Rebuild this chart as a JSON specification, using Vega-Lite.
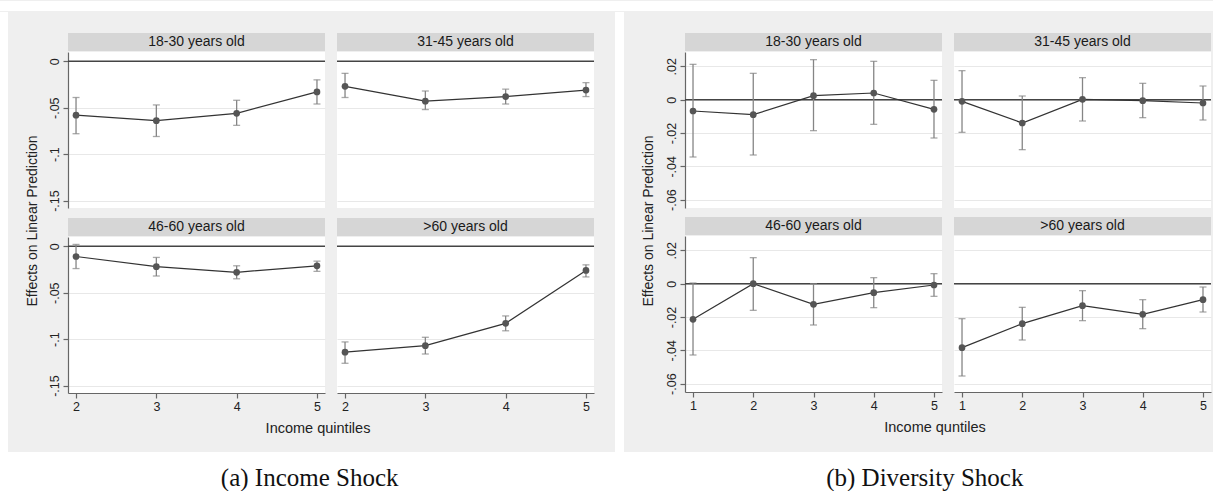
{
"$schema": "https://vega.github.io/schema/vega-lite/v6.json",
"background": "#efefef",
"padding": 0,
"config": {
  "view": {"stroke": null},
  "font": "Liberation Sans",
  "axis": {"domainColor": "#666666", "tickColor": "#666666", "gridColor": "#e8e8e8", "gridWidth": 1, "labelFont": "Liberation Sans", "labelFontSize": 12.5, "labelColor": "#222222", "tickSize": 5, "labelPadding": 2, "domainWidth": 1.2, "tickWidth": 1.2, "labelOverlap": false}
},
"datasets": {
  "A": [
    {"age":"18-30","q":2,"est":-0.058,"lo":-0.078,"hi":-0.039},
    {"age":"18-30","q":3,"est":-0.064,"lo":-0.081,"hi":-0.047},
    {"age":"18-30","q":4,"est":-0.056,"lo":-0.069,"hi":-0.042},
    {"age":"18-30","q":5,"est":-0.033,"lo":-0.046,"hi":-0.020},
    {"age":"31-45","q":2,"est":-0.027,"lo":-0.039,"hi":-0.013},
    {"age":"31-45","q":3,"est":-0.043,"lo":-0.052,"hi":-0.032},
    {"age":"31-45","q":4,"est":-0.038,"lo":-0.046,"hi":-0.030},
    {"age":"31-45","q":5,"est":-0.031,"lo":-0.038,"hi":-0.023},
    {"age":"46-60","q":2,"est":-0.011,"lo":-0.024,"hi":0.002},
    {"age":"46-60","q":3,"est":-0.022,"lo":-0.032,"hi":-0.012},
    {"age":"46-60","q":4,"est":-0.028,"lo":-0.035,"hi":-0.021},
    {"age":"46-60","q":5,"est":-0.021,"lo":-0.027,"hi":-0.016},
    {"age":">60","q":2,"est":-0.114,"lo":-0.126,"hi":-0.103},
    {"age":">60","q":3,"est":-0.107,"lo":-0.116,"hi":-0.098},
    {"age":">60","q":4,"est":-0.083,"lo":-0.091,"hi":-0.075},
    {"age":">60","q":5,"est":-0.026,"lo":-0.033,"hi":-0.020}
  ],
  "B": [
    {"age":"18-30","q":1,"est":-0.0068,"lo":-0.0344,"hi":0.0212},
    {"age":"18-30","q":2,"est":-0.009,"lo":-0.0332,"hi":0.0158},
    {"age":"18-30","q":3,"est":0.0024,"lo":-0.0186,"hi":0.024},
    {"age":"18-30","q":4,"est":0.004,"lo":-0.0148,"hi":0.023},
    {"age":"18-30","q":5,"est":-0.0058,"lo":-0.023,"hi":0.0116},
    {"age":"31-45","q":1,"est":-0.001,"lo":-0.0196,"hi":0.0174},
    {"age":"31-45","q":2,"est":-0.014,"lo":-0.030,"hi":0.0022},
    {"age":"31-45","q":3,"est":0.0002,"lo":-0.0128,"hi":0.0132},
    {"age":"31-45","q":4,"est":-0.0006,"lo":-0.0108,"hi":0.0098},
    {"age":"31-45","q":5,"est":-0.002,"lo":-0.0122,"hi":0.0082},
    {"age":"46-60","q":1,"est":-0.0214,"lo":-0.0428,"hi":0.0004},
    {"age":"46-60","q":2,"est":0.0,"lo":-0.016,"hi":0.0156},
    {"age":"46-60","q":3,"est":-0.0124,"lo":-0.0248,"hi":0.0},
    {"age":"46-60","q":4,"est":-0.0054,"lo":-0.0144,"hi":0.0036},
    {"age":"46-60","q":5,"est":-0.0008,"lo":-0.0076,"hi":0.006},
    {"age":">60","q":1,"est":-0.0384,"lo":-0.0554,"hi":-0.021},
    {"age":">60","q":2,"est":-0.024,"lo":-0.0338,"hi":-0.0142},
    {"age":">60","q":3,"est":-0.0132,"lo":-0.0222,"hi":-0.0042},
    {"age":">60","q":4,"est":-0.0184,"lo":-0.027,"hi":-0.0096},
    {"age":">60","q":5,"est":-0.0096,"lo":-0.017,"hi":-0.002}
  ]
},
"spacing": 0,
"vconcat": [
  {"width": 1213, "height": 10, "data": {"values": [{}]}, "mark": {"type": "text", "text": ""}, "view": {"fill": "white"}},
  {"hconcat": [
    {"width": 8, "height": 440, "data": {"values": [{}]}, "mark": {"type": "text", "text": ""}, "view": {"fill": "white"}},
    {"hconcat": [
      {"width": 40, "height": 418, "data": {"values": [{"t": "Effects on Linear Prediction"}]}, "mark": {"type": "text", "angle": 270, "fontSize": 14, "dy": 4.5, "color": "#222222"}, "encoding": {"text": {"field": "t"}}},
      {"vconcat": [
        {"width": 1, "height": 21, "data": {"values": [{}]}, "mark": {"type": "text", "text": ""}},
        {"vconcat": [
          {"hconcat": [
            {"bounds": "flush", "spacing": 1, "vconcat": [
              {"width": 257, "height": 18, "data": {"values": [{"t": "18-30 years old"}]}, "mark": {"type": "text", "fontSize": 14, "color": "#1a1a1a"}, "encoding": {"text": {"field": "t"}}, "view": {"fill": "#d6d6d6"}},
              {"width": 257, "height": 156, "view": {"fill": "white"}, "layer": [
                {"data": {"values": [{}]}, "mark": {"type": "rule", "color": "#444444", "strokeWidth": 1.5}, "encoding": {"y": {"datum": 0, "type": "quantitative", "scale": {"domain": [-0.158, 0.01], "nice": false, "zero": false}, "axis": {"values": [0, -0.05, -0.1, -0.15], "title": null, "labelAngle": 270, "labelOverlap": false, "grid": true, "labelExpr": "datum.value == 0 ? '0' : replace(replace(format(datum.value, '.2~f'), '\u2212', '-'), '0.', '.')"}}}},
                {"data": {"name": "A"}, "transform": [{"filter": "datum.age == '18-30'"}], "mark": {"type": "rule", "color": "#858585", "strokeWidth": 1.3}, "encoding": {"x": {"field": "q", "type": "quantitative", "scale": {"domain": [1.9, 5.1], "nice": false, "zero": false}, "axis": null}, "y": {"field": "lo", "type": "quantitative", "scale": {"domain": [-0.158, 0.01], "nice": false, "zero": false}, "axis": {"values": [0, -0.05, -0.1, -0.15], "title": null, "labelAngle": 270, "labelOverlap": false, "grid": true, "labelExpr": "datum.value == 0 ? '0' : replace(replace(format(datum.value, '.2~f'), '\u2212', '-'), '0.', '.')"}}, "y2": {"field": "hi"}}},
                {"data": {"name": "A"}, "transform": [{"filter": "datum.age == '18-30'"}], "mark": {"type": "tick", "orient": "horizontal", "size": 7, "thickness": 1.3, "color": "#858585"}, "encoding": {"x": {"field": "q", "type": "quantitative", "axis": null}, "y": {"field": "lo", "type": "quantitative", "axis": {"values": [0, -0.05, -0.1, -0.15], "title": null, "labelAngle": 270, "labelOverlap": false, "grid": true, "labelExpr": "datum.value == 0 ? '0' : replace(replace(format(datum.value, '.2~f'), '\u2212', '-'), '0.', '.')"}}}},
                {"data": {"name": "A"}, "transform": [{"filter": "datum.age == '18-30'"}], "mark": {"type": "tick", "orient": "horizontal", "size": 7, "thickness": 1.3, "color": "#858585"}, "encoding": {"x": {"field": "q", "type": "quantitative", "axis": null}, "y": {"field": "hi", "type": "quantitative", "axis": {"values": [0, -0.05, -0.1, -0.15], "title": null, "labelAngle": 270, "labelOverlap": false, "grid": true, "labelExpr": "datum.value == 0 ? '0' : replace(replace(format(datum.value, '.2~f'), '\u2212', '-'), '0.', '.')"}}}},
                {"data": {"name": "A"}, "transform": [{"filter": "datum.age == '18-30'"}], "mark": {"type": "line", "color": "#333333", "strokeWidth": 1.2}, "encoding": {"x": {"field": "q", "type": "quantitative", "axis": null}, "y": {"field": "est", "type": "quantitative", "axis": {"values": [0, -0.05, -0.1, -0.15], "title": null, "labelAngle": 270, "labelOverlap": false, "grid": true, "labelExpr": "datum.value == 0 ? '0' : replace(replace(format(datum.value, '.2~f'), '\u2212', '-'), '0.', '.')"}}}},
                {"data": {"name": "A"}, "transform": [{"filter": "datum.age == '18-30'"}], "mark": {"type": "circle", "size": 45, "color": "#555555", "opacity": 1}, "encoding": {"x": {"field": "q", "type": "quantitative", "axis": null}, "y": {"field": "est", "type": "quantitative", "axis": {"values": [0, -0.05, -0.1, -0.15], "title": null, "labelAngle": 270, "labelOverlap": false, "grid": true, "labelExpr": "datum.value == 0 ? '0' : replace(replace(format(datum.value, '.2~f'), '\u2212', '-'), '0.', '.')"}}}}
              ]}
            ]},
            {"bounds": "flush", "spacing": 1, "vconcat": [
              {"width": 257, "height": 18, "data": {"values": [{"t": "31-45 years old"}]}, "mark": {"type": "text", "fontSize": 14, "color": "#1a1a1a"}, "encoding": {"text": {"field": "t"}}, "view": {"fill": "#d6d6d6"}},
              {"width": 257, "height": 156, "view": {"fill": "white"}, "layer": [
                {"data": {"values": [{}]}, "mark": {"type": "rule", "color": "#444444", "strokeWidth": 1.5}, "encoding": {"y": {"datum": 0, "type": "quantitative", "scale": {"domain": [-0.158, 0.01], "nice": false, "zero": false}, "axis": {"values": [0, -0.05, -0.1, -0.15], "title": null, "labels": false, "ticks": false, "domain": false, "grid": true}}}},
                {"data": {"name": "A"}, "transform": [{"filter": "datum.age == '31-45'"}], "mark": {"type": "rule", "color": "#858585", "strokeWidth": 1.3}, "encoding": {"x": {"field": "q", "type": "quantitative", "scale": {"domain": [1.9, 5.1], "nice": false, "zero": false}, "axis": null}, "y": {"field": "lo", "type": "quantitative", "scale": {"domain": [-0.158, 0.01], "nice": false, "zero": false}, "axis": {"values": [0, -0.05, -0.1, -0.15], "title": null, "labels": false, "ticks": false, "domain": false, "grid": true}}, "y2": {"field": "hi"}}},
                {"data": {"name": "A"}, "transform": [{"filter": "datum.age == '31-45'"}], "mark": {"type": "tick", "orient": "horizontal", "size": 7, "thickness": 1.3, "color": "#858585"}, "encoding": {"x": {"field": "q", "type": "quantitative", "axis": null}, "y": {"field": "lo", "type": "quantitative", "axis": {"values": [0, -0.05, -0.1, -0.15], "title": null, "labels": false, "ticks": false, "domain": false, "grid": true}}}},
                {"data": {"name": "A"}, "transform": [{"filter": "datum.age == '31-45'"}], "mark": {"type": "tick", "orient": "horizontal", "size": 7, "thickness": 1.3, "color": "#858585"}, "encoding": {"x": {"field": "q", "type": "quantitative", "axis": null}, "y": {"field": "hi", "type": "quantitative", "axis": {"values": [0, -0.05, -0.1, -0.15], "title": null, "labels": false, "ticks": false, "domain": false, "grid": true}}}},
                {"data": {"name": "A"}, "transform": [{"filter": "datum.age == '31-45'"}], "mark": {"type": "line", "color": "#333333", "strokeWidth": 1.2}, "encoding": {"x": {"field": "q", "type": "quantitative", "axis": null}, "y": {"field": "est", "type": "quantitative", "axis": {"values": [0, -0.05, -0.1, -0.15], "title": null, "labels": false, "ticks": false, "domain": false, "grid": true}}}},
                {"data": {"name": "A"}, "transform": [{"filter": "datum.age == '31-45'"}], "mark": {"type": "circle", "size": 45, "color": "#555555", "opacity": 1}, "encoding": {"x": {"field": "q", "type": "quantitative", "axis": null}, "y": {"field": "est", "type": "quantitative", "axis": {"values": [0, -0.05, -0.1, -0.15], "title": null, "labels": false, "ticks": false, "domain": false, "grid": true}}}}
              ]}
            ]}
          ], "spacing": 10},
          {"hconcat": [
            {"bounds": "flush", "spacing": 1, "vconcat": [
              {"width": 257, "height": 18, "data": {"values": [{"t": "46-60 years old"}]}, "mark": {"type": "text", "fontSize": 14, "color": "#1a1a1a"}, "encoding": {"text": {"field": "t"}}, "view": {"fill": "#d6d6d6"}},
              {"width": 257, "height": 156, "view": {"fill": "white"}, "layer": [
                {"data": {"values": [{}]}, "mark": {"type": "rule", "color": "#444444", "strokeWidth": 1.5}, "encoding": {"y": {"datum": 0, "type": "quantitative", "scale": {"domain": [-0.158, 0.01], "nice": false, "zero": false}, "axis": {"values": [0, -0.05, -0.1, -0.15], "title": null, "labelAngle": 270, "labelOverlap": false, "grid": true, "labelExpr": "datum.value == 0 ? '0' : replace(replace(format(datum.value, '.2~f'), '\u2212', '-'), '0.', '.')"}}}},
                {"data": {"name": "A"}, "transform": [{"filter": "datum.age == '46-60'"}], "mark": {"type": "rule", "color": "#858585", "strokeWidth": 1.3}, "encoding": {"x": {"field": "q", "type": "quantitative", "scale": {"domain": [1.9, 5.1], "nice": false, "zero": false}, "axis": {"values": [2, 3, 4, 5], "format": "d", "title": null, "grid": false}}, "y": {"field": "lo", "type": "quantitative", "scale": {"domain": [-0.158, 0.01], "nice": false, "zero": false}, "axis": {"values": [0, -0.05, -0.1, -0.15], "title": null, "labelAngle": 270, "labelOverlap": false, "grid": true, "labelExpr": "datum.value == 0 ? '0' : replace(replace(format(datum.value, '.2~f'), '\u2212', '-'), '0.', '.')"}}, "y2": {"field": "hi"}}},
                {"data": {"name": "A"}, "transform": [{"filter": "datum.age == '46-60'"}], "mark": {"type": "tick", "orient": "horizontal", "size": 7, "thickness": 1.3, "color": "#858585"}, "encoding": {"x": {"field": "q", "type": "quantitative", "axis": {"values": [2, 3, 4, 5], "format": "d", "title": null, "grid": false}}, "y": {"field": "lo", "type": "quantitative", "axis": {"values": [0, -0.05, -0.1, -0.15], "title": null, "labelAngle": 270, "labelOverlap": false, "grid": true, "labelExpr": "datum.value == 0 ? '0' : replace(replace(format(datum.value, '.2~f'), '\u2212', '-'), '0.', '.')"}}}},
                {"data": {"name": "A"}, "transform": [{"filter": "datum.age == '46-60'"}], "mark": {"type": "tick", "orient": "horizontal", "size": 7, "thickness": 1.3, "color": "#858585"}, "encoding": {"x": {"field": "q", "type": "quantitative", "axis": {"values": [2, 3, 4, 5], "format": "d", "title": null, "grid": false}}, "y": {"field": "hi", "type": "quantitative", "axis": {"values": [0, -0.05, -0.1, -0.15], "title": null, "labelAngle": 270, "labelOverlap": false, "grid": true, "labelExpr": "datum.value == 0 ? '0' : replace(replace(format(datum.value, '.2~f'), '\u2212', '-'), '0.', '.')"}}}},
                {"data": {"name": "A"}, "transform": [{"filter": "datum.age == '46-60'"}], "mark": {"type": "line", "color": "#333333", "strokeWidth": 1.2}, "encoding": {"x": {"field": "q", "type": "quantitative", "axis": {"values": [2, 3, 4, 5], "format": "d", "title": null, "grid": false}}, "y": {"field": "est", "type": "quantitative", "axis": {"values": [0, -0.05, -0.1, -0.15], "title": null, "labelAngle": 270, "labelOverlap": false, "grid": true, "labelExpr": "datum.value == 0 ? '0' : replace(replace(format(datum.value, '.2~f'), '\u2212', '-'), '0.', '.')"}}}},
                {"data": {"name": "A"}, "transform": [{"filter": "datum.age == '46-60'"}], "mark": {"type": "circle", "size": 45, "color": "#555555", "opacity": 1}, "encoding": {"x": {"field": "q", "type": "quantitative", "axis": {"values": [2, 3, 4, 5], "format": "d", "title": null, "grid": false}}, "y": {"field": "est", "type": "quantitative", "axis": {"values": [0, -0.05, -0.1, -0.15], "title": null, "labelAngle": 270, "labelOverlap": false, "grid": true, "labelExpr": "datum.value == 0 ? '0' : replace(replace(format(datum.value, '.2~f'), '\u2212', '-'), '0.', '.')"}}}}
              ]}
            ]},
            {"bounds": "flush", "spacing": 1, "vconcat": [
              {"width": 257, "height": 18, "data": {"values": [{"t": ">60 years old"}]}, "mark": {"type": "text", "fontSize": 14, "color": "#1a1a1a"}, "encoding": {"text": {"field": "t"}}, "view": {"fill": "#d6d6d6"}},
              {"width": 257, "height": 156, "view": {"fill": "white"}, "layer": [
                {"data": {"values": [{}]}, "mark": {"type": "rule", "color": "#444444", "strokeWidth": 1.5}, "encoding": {"y": {"datum": 0, "type": "quantitative", "scale": {"domain": [-0.158, 0.01], "nice": false, "zero": false}, "axis": {"values": [0, -0.05, -0.1, -0.15], "title": null, "labels": false, "ticks": false, "domain": false, "grid": true}}}},
                {"data": {"name": "A"}, "transform": [{"filter": "datum.age == '>60'"}], "mark": {"type": "rule", "color": "#858585", "strokeWidth": 1.3}, "encoding": {"x": {"field": "q", "type": "quantitative", "scale": {"domain": [1.9, 5.1], "nice": false, "zero": false}, "axis": {"values": [2, 3, 4, 5], "format": "d", "title": null, "grid": false}}, "y": {"field": "lo", "type": "quantitative", "scale": {"domain": [-0.158, 0.01], "nice": false, "zero": false}, "axis": {"values": [0, -0.05, -0.1, -0.15], "title": null, "labels": false, "ticks": false, "domain": false, "grid": true}}, "y2": {"field": "hi"}}},
                {"data": {"name": "A"}, "transform": [{"filter": "datum.age == '>60'"}], "mark": {"type": "tick", "orient": "horizontal", "size": 7, "thickness": 1.3, "color": "#858585"}, "encoding": {"x": {"field": "q", "type": "quantitative", "axis": {"values": [2, 3, 4, 5], "format": "d", "title": null, "grid": false}}, "y": {"field": "lo", "type": "quantitative", "axis": {"values": [0, -0.05, -0.1, -0.15], "title": null, "labels": false, "ticks": false, "domain": false, "grid": true}}}},
                {"data": {"name": "A"}, "transform": [{"filter": "datum.age == '>60'"}], "mark": {"type": "tick", "orient": "horizontal", "size": 7, "thickness": 1.3, "color": "#858585"}, "encoding": {"x": {"field": "q", "type": "quantitative", "axis": {"values": [2, 3, 4, 5], "format": "d", "title": null, "grid": false}}, "y": {"field": "hi", "type": "quantitative", "axis": {"values": [0, -0.05, -0.1, -0.15], "title": null, "labels": false, "ticks": false, "domain": false, "grid": true}}}},
                {"data": {"name": "A"}, "transform": [{"filter": "datum.age == '>60'"}], "mark": {"type": "line", "color": "#333333", "strokeWidth": 1.2}, "encoding": {"x": {"field": "q", "type": "quantitative", "axis": {"values": [2, 3, 4, 5], "format": "d", "title": null, "grid": false}}, "y": {"field": "est", "type": "quantitative", "axis": {"values": [0, -0.05, -0.1, -0.15], "title": null, "labels": false, "ticks": false, "domain": false, "grid": true}}}},
                {"data": {"name": "A"}, "transform": [{"filter": "datum.age == '>60'"}], "mark": {"type": "circle", "size": 45, "color": "#555555", "opacity": 1}, "encoding": {"x": {"field": "q", "type": "quantitative", "axis": {"values": [2, 3, 4, 5], "format": "d", "title": null, "grid": false}}, "y": {"field": "est", "type": "quantitative", "axis": {"values": [0, -0.05, -0.1, -0.15], "title": null, "labels": false, "ticks": false, "domain": false, "grid": true}}}}
              ]}
            ]}
          ], "spacing": 10}
        ], "spacing": 6},
        {"width": 500, "height": 32, "data": {"values": [{"t": "Income quintiles"}]}, "mark": {"type": "text", "fontSize": 14.5, "color": "#222222"}, "encoding": {"text": {"field": "t"}}}
      ], "spacing": 0},
      {"width": 20, "height": 10, "data": {"values": [{}]}, "mark": {"type": "text", "text": ""}}
    ], "spacing": 0},
    {"width": 9, "height": 440, "data": {"values": [{}]}, "mark": {"type": "text", "text": ""}, "view": {"fill": "white"}},
    {"hconcat": [
      {"width": 40, "height": 418, "data": {"values": [{"t": "Effects on Linear Prediction"}]}, "mark": {"type": "text", "angle": 270, "fontSize": 14, "dy": 4.5, "color": "#222222"}, "encoding": {"text": {"field": "t"}}},
      {"vconcat": [
        {"width": 1, "height": 21, "data": {"values": [{}]}, "mark": {"type": "text", "text": ""}},
        {"vconcat": [
          {"hconcat": [
            {"bounds": "flush", "spacing": 1, "vconcat": [
              {"width": 257, "height": 18, "data": {"values": [{"t": "18-30 years old"}]}, "mark": {"type": "text", "fontSize": 14, "color": "#1a1a1a"}, "encoding": {"text": {"field": "t"}}, "view": {"fill": "#d6d6d6"}},
              {"width": 257, "height": 156, "view": {"fill": "white"}, "layer": [
                {"data": {"values": [{}]}, "mark": {"type": "rule", "color": "#444444", "strokeWidth": 1.5}, "encoding": {"y": {"datum": 0, "type": "quantitative", "scale": {"domain": [-0.065, 0.0286], "nice": false, "zero": false}, "axis": {"values": [0.02, 0, -0.02, -0.04, -0.06], "title": null, "labelAngle": 270, "labelOverlap": false, "grid": true, "labelExpr": "datum.value == 0 ? '0' : replace(replace(format(datum.value, '.2~f'), '\u2212', '-'), '0.', '.')"}}}},
                {"data": {"name": "B"}, "transform": [{"filter": "datum.age == '18-30'"}], "mark": {"type": "rule", "color": "#858585", "strokeWidth": 1.3}, "encoding": {"x": {"field": "q", "type": "quantitative", "scale": {"domain": [0.867, 5.133], "nice": false, "zero": false}, "axis": null}, "y": {"field": "lo", "type": "quantitative", "scale": {"domain": [-0.065, 0.0286], "nice": false, "zero": false}, "axis": {"values": [0.02, 0, -0.02, -0.04, -0.06], "title": null, "labelAngle": 270, "labelOverlap": false, "grid": true, "labelExpr": "datum.value == 0 ? '0' : replace(replace(format(datum.value, '.2~f'), '\u2212', '-'), '0.', '.')"}}, "y2": {"field": "hi"}}},
                {"data": {"name": "B"}, "transform": [{"filter": "datum.age == '18-30'"}], "mark": {"type": "tick", "orient": "horizontal", "size": 7, "thickness": 1.3, "color": "#858585"}, "encoding": {"x": {"field": "q", "type": "quantitative", "axis": null}, "y": {"field": "lo", "type": "quantitative", "axis": {"values": [0.02, 0, -0.02, -0.04, -0.06], "title": null, "labelAngle": 270, "labelOverlap": false, "grid": true, "labelExpr": "datum.value == 0 ? '0' : replace(replace(format(datum.value, '.2~f'), '\u2212', '-'), '0.', '.')"}}}},
                {"data": {"name": "B"}, "transform": [{"filter": "datum.age == '18-30'"}], "mark": {"type": "tick", "orient": "horizontal", "size": 7, "thickness": 1.3, "color": "#858585"}, "encoding": {"x": {"field": "q", "type": "quantitative", "axis": null}, "y": {"field": "hi", "type": "quantitative", "axis": {"values": [0.02, 0, -0.02, -0.04, -0.06], "title": null, "labelAngle": 270, "labelOverlap": false, "grid": true, "labelExpr": "datum.value == 0 ? '0' : replace(replace(format(datum.value, '.2~f'), '\u2212', '-'), '0.', '.')"}}}},
                {"data": {"name": "B"}, "transform": [{"filter": "datum.age == '18-30'"}], "mark": {"type": "line", "color": "#333333", "strokeWidth": 1.2}, "encoding": {"x": {"field": "q", "type": "quantitative", "axis": null}, "y": {"field": "est", "type": "quantitative", "axis": {"values": [0.02, 0, -0.02, -0.04, -0.06], "title": null, "labelAngle": 270, "labelOverlap": false, "grid": true, "labelExpr": "datum.value == 0 ? '0' : replace(replace(format(datum.value, '.2~f'), '\u2212', '-'), '0.', '.')"}}}},
                {"data": {"name": "B"}, "transform": [{"filter": "datum.age == '18-30'"}], "mark": {"type": "circle", "size": 45, "color": "#555555", "opacity": 1}, "encoding": {"x": {"field": "q", "type": "quantitative", "axis": null}, "y": {"field": "est", "type": "quantitative", "axis": {"values": [0.02, 0, -0.02, -0.04, -0.06], "title": null, "labelAngle": 270, "labelOverlap": false, "grid": true, "labelExpr": "datum.value == 0 ? '0' : replace(replace(format(datum.value, '.2~f'), '\u2212', '-'), '0.', '.')"}}}}
              ]}
            ]},
            {"bounds": "flush", "spacing": 1, "vconcat": [
              {"width": 257, "height": 18, "data": {"values": [{"t": "31-45 years old"}]}, "mark": {"type": "text", "fontSize": 14, "color": "#1a1a1a"}, "encoding": {"text": {"field": "t"}}, "view": {"fill": "#d6d6d6"}},
              {"width": 257, "height": 156, "view": {"fill": "white"}, "layer": [
                {"data": {"values": [{}]}, "mark": {"type": "rule", "color": "#444444", "strokeWidth": 1.5}, "encoding": {"y": {"datum": 0, "type": "quantitative", "scale": {"domain": [-0.065, 0.0286], "nice": false, "zero": false}, "axis": {"values": [0.02, 0, -0.02, -0.04, -0.06], "title": null, "labels": false, "ticks": false, "domain": false, "grid": true}}}},
                {"data": {"name": "B"}, "transform": [{"filter": "datum.age == '31-45'"}], "mark": {"type": "rule", "color": "#858585", "strokeWidth": 1.3}, "encoding": {"x": {"field": "q", "type": "quantitative", "scale": {"domain": [0.867, 5.133], "nice": false, "zero": false}, "axis": null}, "y": {"field": "lo", "type": "quantitative", "scale": {"domain": [-0.065, 0.0286], "nice": false, "zero": false}, "axis": {"values": [0.02, 0, -0.02, -0.04, -0.06], "title": null, "labels": false, "ticks": false, "domain": false, "grid": true}}, "y2": {"field": "hi"}}},
                {"data": {"name": "B"}, "transform": [{"filter": "datum.age == '31-45'"}], "mark": {"type": "tick", "orient": "horizontal", "size": 7, "thickness": 1.3, "color": "#858585"}, "encoding": {"x": {"field": "q", "type": "quantitative", "axis": null}, "y": {"field": "lo", "type": "quantitative", "axis": {"values": [0.02, 0, -0.02, -0.04, -0.06], "title": null, "labels": false, "ticks": false, "domain": false, "grid": true}}}},
                {"data": {"name": "B"}, "transform": [{"filter": "datum.age == '31-45'"}], "mark": {"type": "tick", "orient": "horizontal", "size": 7, "thickness": 1.3, "color": "#858585"}, "encoding": {"x": {"field": "q", "type": "quantitative", "axis": null}, "y": {"field": "hi", "type": "quantitative", "axis": {"values": [0.02, 0, -0.02, -0.04, -0.06], "title": null, "labels": false, "ticks": false, "domain": false, "grid": true}}}},
                {"data": {"name": "B"}, "transform": [{"filter": "datum.age == '31-45'"}], "mark": {"type": "line", "color": "#333333", "strokeWidth": 1.2}, "encoding": {"x": {"field": "q", "type": "quantitative", "axis": null}, "y": {"field": "est", "type": "quantitative", "axis": {"values": [0.02, 0, -0.02, -0.04, -0.06], "title": null, "labels": false, "ticks": false, "domain": false, "grid": true}}}},
                {"data": {"name": "B"}, "transform": [{"filter": "datum.age == '31-45'"}], "mark": {"type": "circle", "size": 45, "color": "#555555", "opacity": 1}, "encoding": {"x": {"field": "q", "type": "quantitative", "axis": null}, "y": {"field": "est", "type": "quantitative", "axis": {"values": [0.02, 0, -0.02, -0.04, -0.06], "title": null, "labels": false, "ticks": false, "domain": false, "grid": true}}}}
              ]}
            ]}
          ], "spacing": 10},
          {"hconcat": [
            {"bounds": "flush", "spacing": 1, "vconcat": [
              {"width": 257, "height": 18, "data": {"values": [{"t": "46-60 years old"}]}, "mark": {"type": "text", "fontSize": 14, "color": "#1a1a1a"}, "encoding": {"text": {"field": "t"}}, "view": {"fill": "#d6d6d6"}},
              {"width": 257, "height": 156, "view": {"fill": "white"}, "layer": [
                {"data": {"values": [{}]}, "mark": {"type": "rule", "color": "#444444", "strokeWidth": 1.5}, "encoding": {"y": {"datum": 0, "type": "quantitative", "scale": {"domain": [-0.065, 0.0286], "nice": false, "zero": false}, "axis": {"values": [0.02, 0, -0.02, -0.04, -0.06], "title": null, "labelAngle": 270, "labelOverlap": false, "grid": true, "labelExpr": "datum.value == 0 ? '0' : replace(replace(format(datum.value, '.2~f'), '\u2212', '-'), '0.', '.')"}}}},
                {"data": {"name": "B"}, "transform": [{"filter": "datum.age == '46-60'"}], "mark": {"type": "rule", "color": "#858585", "strokeWidth": 1.3}, "encoding": {"x": {"field": "q", "type": "quantitative", "scale": {"domain": [0.867, 5.133], "nice": false, "zero": false}, "axis": {"values": [1, 2, 3, 4, 5], "format": "d", "title": null, "grid": false}}, "y": {"field": "lo", "type": "quantitative", "scale": {"domain": [-0.065, 0.0286], "nice": false, "zero": false}, "axis": {"values": [0.02, 0, -0.02, -0.04, -0.06], "title": null, "labelAngle": 270, "labelOverlap": false, "grid": true, "labelExpr": "datum.value == 0 ? '0' : replace(replace(format(datum.value, '.2~f'), '\u2212', '-'), '0.', '.')"}}, "y2": {"field": "hi"}}},
                {"data": {"name": "B"}, "transform": [{"filter": "datum.age == '46-60'"}], "mark": {"type": "tick", "orient": "horizontal", "size": 7, "thickness": 1.3, "color": "#858585"}, "encoding": {"x": {"field": "q", "type": "quantitative", "axis": {"values": [1, 2, 3, 4, 5], "format": "d", "title": null, "grid": false}}, "y": {"field": "lo", "type": "quantitative", "axis": {"values": [0.02, 0, -0.02, -0.04, -0.06], "title": null, "labelAngle": 270, "labelOverlap": false, "grid": true, "labelExpr": "datum.value == 0 ? '0' : replace(replace(format(datum.value, '.2~f'), '\u2212', '-'), '0.', '.')"}}}},
                {"data": {"name": "B"}, "transform": [{"filter": "datum.age == '46-60'"}], "mark": {"type": "tick", "orient": "horizontal", "size": 7, "thickness": 1.3, "color": "#858585"}, "encoding": {"x": {"field": "q", "type": "quantitative", "axis": {"values": [1, 2, 3, 4, 5], "format": "d", "title": null, "grid": false}}, "y": {"field": "hi", "type": "quantitative", "axis": {"values": [0.02, 0, -0.02, -0.04, -0.06], "title": null, "labelAngle": 270, "labelOverlap": false, "grid": true, "labelExpr": "datum.value == 0 ? '0' : replace(replace(format(datum.value, '.2~f'), '\u2212', '-'), '0.', '.')"}}}},
                {"data": {"name": "B"}, "transform": [{"filter": "datum.age == '46-60'"}], "mark": {"type": "line", "color": "#333333", "strokeWidth": 1.2}, "encoding": {"x": {"field": "q", "type": "quantitative", "axis": {"values": [1, 2, 3, 4, 5], "format": "d", "title": null, "grid": false}}, "y": {"field": "est", "type": "quantitative", "axis": {"values": [0.02, 0, -0.02, -0.04, -0.06], "title": null, "labelAngle": 270, "labelOverlap": false, "grid": true, "labelExpr": "datum.value == 0 ? '0' : replace(replace(format(datum.value, '.2~f'), '\u2212', '-'), '0.', '.')"}}}},
                {"data": {"name": "B"}, "transform": [{"filter": "datum.age == '46-60'"}], "mark": {"type": "circle", "size": 45, "color": "#555555", "opacity": 1}, "encoding": {"x": {"field": "q", "type": "quantitative", "axis": {"values": [1, 2, 3, 4, 5], "format": "d", "title": null, "grid": false}}, "y": {"field": "est", "type": "quantitative", "axis": {"values": [0.02, 0, -0.02, -0.04, -0.06], "title": null, "labelAngle": 270, "labelOverlap": false, "grid": true, "labelExpr": "datum.value == 0 ? '0' : replace(replace(format(datum.value, '.2~f'), '\u2212', '-'), '0.', '.')"}}}}
              ]}
            ]},
            {"bounds": "flush", "spacing": 1, "vconcat": [
              {"width": 257, "height": 18, "data": {"values": [{"t": ">60 years old"}]}, "mark": {"type": "text", "fontSize": 14, "color": "#1a1a1a"}, "encoding": {"text": {"field": "t"}}, "view": {"fill": "#d6d6d6"}},
              {"width": 257, "height": 156, "view": {"fill": "white"}, "layer": [
                {"data": {"values": [{}]}, "mark": {"type": "rule", "color": "#444444", "strokeWidth": 1.5}, "encoding": {"y": {"datum": 0, "type": "quantitative", "scale": {"domain": [-0.065, 0.0286], "nice": false, "zero": false}, "axis": {"values": [0.02, 0, -0.02, -0.04, -0.06], "title": null, "labels": false, "ticks": false, "domain": false, "grid": true}}}},
                {"data": {"name": "B"}, "transform": [{"filter": "datum.age == '>60'"}], "mark": {"type": "rule", "color": "#858585", "strokeWidth": 1.3}, "encoding": {"x": {"field": "q", "type": "quantitative", "scale": {"domain": [0.867, 5.133], "nice": false, "zero": false}, "axis": {"values": [1, 2, 3, 4, 5], "format": "d", "title": null, "grid": false}}, "y": {"field": "lo", "type": "quantitative", "scale": {"domain": [-0.065, 0.0286], "nice": false, "zero": false}, "axis": {"values": [0.02, 0, -0.02, -0.04, -0.06], "title": null, "labels": false, "ticks": false, "domain": false, "grid": true}}, "y2": {"field": "hi"}}},
                {"data": {"name": "B"}, "transform": [{"filter": "datum.age == '>60'"}], "mark": {"type": "tick", "orient": "horizontal", "size": 7, "thickness": 1.3, "color": "#858585"}, "encoding": {"x": {"field": "q", "type": "quantitative", "axis": {"values": [1, 2, 3, 4, 5], "format": "d", "title": null, "grid": false}}, "y": {"field": "lo", "type": "quantitative", "axis": {"values": [0.02, 0, -0.02, -0.04, -0.06], "title": null, "labels": false, "ticks": false, "domain": false, "grid": true}}}},
                {"data": {"name": "B"}, "transform": [{"filter": "datum.age == '>60'"}], "mark": {"type": "tick", "orient": "horizontal", "size": 7, "thickness": 1.3, "color": "#858585"}, "encoding": {"x": {"field": "q", "type": "quantitative", "axis": {"values": [1, 2, 3, 4, 5], "format": "d", "title": null, "grid": false}}, "y": {"field": "hi", "type": "quantitative", "axis": {"values": [0.02, 0, -0.02, -0.04, -0.06], "title": null, "labels": false, "ticks": false, "domain": false, "grid": true}}}},
                {"data": {"name": "B"}, "transform": [{"filter": "datum.age == '>60'"}], "mark": {"type": "line", "color": "#333333", "strokeWidth": 1.2}, "encoding": {"x": {"field": "q", "type": "quantitative", "axis": {"values": [1, 2, 3, 4, 5], "format": "d", "title": null, "grid": false}}, "y": {"field": "est", "type": "quantitative", "axis": {"values": [0.02, 0, -0.02, -0.04, -0.06], "title": null, "labels": false, "ticks": false, "domain": false, "grid": true}}}},
                {"data": {"name": "B"}, "transform": [{"filter": "datum.age == '>60'"}], "mark": {"type": "circle", "size": 45, "color": "#555555", "opacity": 1}, "encoding": {"x": {"field": "q", "type": "quantitative", "axis": {"values": [1, 2, 3, 4, 5], "format": "d", "title": null, "grid": false}}, "y": {"field": "est", "type": "quantitative", "axis": {"values": [0.02, 0, -0.02, -0.04, -0.06], "title": null, "labels": false, "ticks": false, "domain": false, "grid": true}}}}
              ]}
            ]}
          ], "spacing": 10}
        ], "spacing": 6},
        {"width": 500, "height": 32, "data": {"values": [{"t": "Income quntiles"}]}, "mark": {"type": "text", "fontSize": 14.5, "color": "#222222"}, "encoding": {"text": {"field": "t"}}}
      ], "spacing": 0}
    ], "spacing": 0}
  ], "spacing": 0},
  {"width": 1213, "height": 41, "view": {"fill": "white"}, "data": {"values": [{"cap": "(a) Income Shock"}, {"cap": "(b) Diversity Shock"}]}, "mark": {"type": "text", "font": "Liberation Serif", "fontSize": 25, "color": "#111111", "dy": 5}, "encoding": {"x": {"field": "cap", "type": "nominal", "sort": null, "scale": {"type": "point", "padding": 0.486, "align": 0.518}, "axis": null}, "text": {"field": "cap"}}}
]
}
